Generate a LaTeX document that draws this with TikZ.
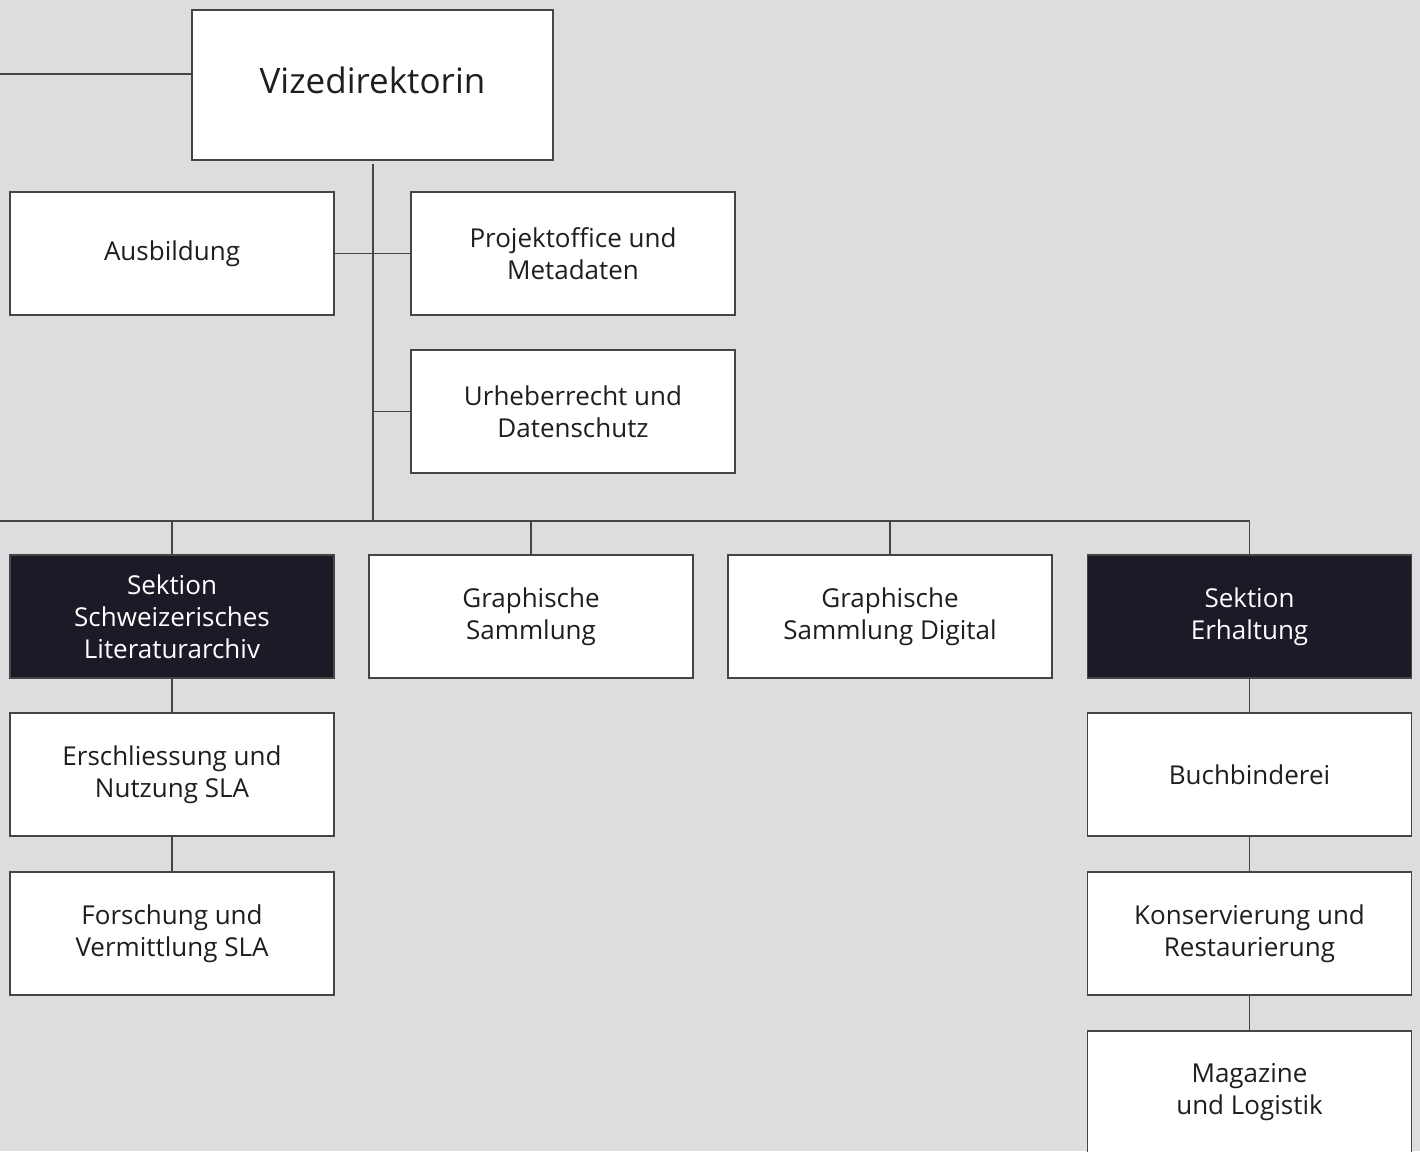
\documentclass[tikz,border=0pt]{standalone}
\usepackage{fontspec}
\setmainfont{Open Sans}
\definecolor{bg}{HTML}{DCDDDF}
\definecolor{dark}{HTML}{1B1A26}
\definecolor{ln}{HTML}{454545}
\definecolor{txt}{HTML}{1E1E1E}
\begin{document}
\begin{tikzpicture}[x=1pt,y=-1pt,
  box/.style={draw=ln, line width=1.4pt, fill=white, text=txt, inner sep=0pt,
    minimum width=324pt, minimum height=123pt, align=center,
    font=\fontsize{26}{32}\selectfont},
  darkbox/.style={box, fill=dark, text=white},
  conn/.style={draw=ln, line width=1.4pt}]
\fill[bg] (0,0) rectangle (1420,1151);
\clip (0,0) rectangle (1420,1151);
\node[box, minimum width=361pt, minimum height=150pt, font=\fontsize{35}{42}\selectfont, text depth=0pt] (vd) at (372.5,85) {\raisebox{10pt}{Vizedirektorin}};
\node[box] (ausb) at (172,253.5) {Ausbildung};
\node[box] (proj) at (573,253.5) {Projektoffice und\\Metadaten};
\node[box] (urh) at (573,411.5) {Urheberrecht und\\Datenschutz};
\node[darkbox] (sla) at (172,616.5) {Sektion\\Schweizerisches\\Literaturarchiv};
\node[box] (gs) at (531,616.5) {Graphische\\Sammlung};
\node[box] (gsd) at (890,616.5) {Graphische\\Sammlung Digital};
\node[darkbox] (erh) at (1249.5,616.5) {Sektion\\Erhaltung};
\node[box] (ers) at (172,774.5) {Erschliessung und\\Nutzung SLA};
\node[box] (for) at (172,933.5) {Forschung und\\Vermittlung SLA};
\node[box] (buch) at (1249.5,774.5) {Buchbinderei};
\node[box] (kons) at (1249.5,933.5) {Konservierung und\\Restaurierung};
\node[box] (mag) at (1249.5,1092.5) {Magazine\\und Logistik};
\coordinate (lft) at (0,74);
\coordinate (vtop) at (373,164);
\coordinate (bus) at (373,521);
\coordinate (busl) at (0,521);
\draw[conn] (lft) -- (vd.west |- lft);
\draw[conn] (vtop) -- (bus);
\draw[conn] (ausb.east) -- (proj.west);
\draw[conn] (urh.west) -- (urh.west -| vtop);
\draw[conn] (busl) -- (erh.north |- busl) -- (erh.north);
\draw[conn] (sla.north) -- (sla.north |- busl);
\draw[conn] (gs.north) -- (gs.north |- busl);
\draw[conn] (gsd.north) -- (gsd.north |- busl);
\draw[conn] (sla.south) -- (ers.north);
\draw[conn] (ers.south) -- (for.north);
\draw[conn] (erh.south) -- (buch.north);
\draw[conn] (buch.south) -- (kons.north);
\draw[conn] (kons.south) -- (mag.north);
\end{tikzpicture}
\end{document}
